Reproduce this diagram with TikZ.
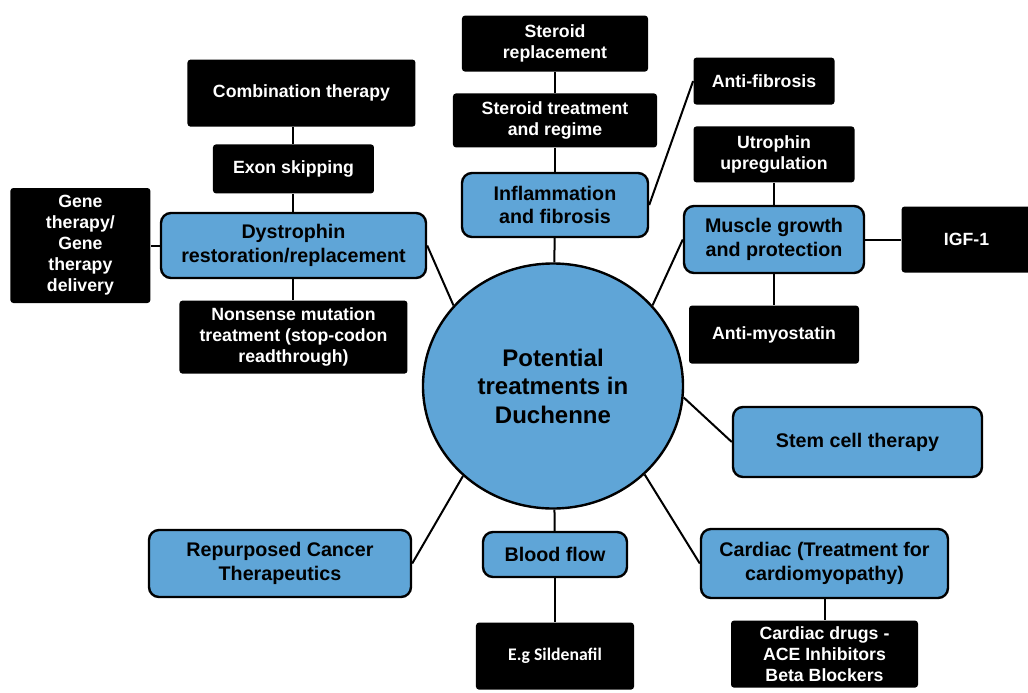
\documentclass[tikz,border=0pt]{standalone}
\usepackage{fontspec}
\setmainfont{Liberation Sans}
\newfontfamily\calibrifont{Carlito}
\usetikzlibrary{positioning,shapes.geometric}
\definecolor{branchFill}{HTML}{5FA5D7}
\tikzset{
  leaf/.style={
    rectangle, rounded corners=1.5pt, fill=black, text=white,
    font=\fontsize{8.85}{10.5}\selectfont\bfseries,
    align=center, inner sep=0pt
  },
  branch/.style={
    rectangle, rounded corners=5pt, fill=branchFill, draw=black,
    line width=1.2pt, font=\fontsize{9.85}{11.7}\selectfont\bfseries,
    align=center, inner sep=0pt
  },
  hub/.style={
    ellipse, fill=branchFill, draw=black, line width=1.2pt,
    font=\fontsize{12}{14.25}\selectfont\bfseries,
    align=center, inner sep=0pt
  },
  link/.style={draw=black, line width=1pt}
}

\begin{document}
\begin{tikzpicture}[x=1pt, y=1pt]
  \useasboundingbox (-276.5,-153) rectangle (237.5,193);

  % centre
  \node[hub, minimum width=130pt, minimum height=122.5pt] (hub) at (0,0)
        {Potential\\treatments in\\Duchenne};

  % main branches
  \node[branch, minimum width=132.5pt, minimum height=32.5pt] (dys)   at (-129.75,70.25) {Dystrophin\\restoration/replacement};
  \node[branch, minimum width=93pt,    minimum height=32pt]   (infl)  at (1,90.5)        {Inflammation\\and fibrosis};
  \node[branch, minimum width=90pt,    minimum height=33.5pt] (mus)   at (110.5,73.25)   {Muscle growth\\and protection};
  \node[branch, minimum width=124.5pt, minimum height=35pt]   (stem)  at (152.25,-28)    {Stem cell therapy};
  \node[branch, minimum width=123.5pt, minimum height=34.5pt] (card)  at (135.75,-88.75) {Cardiac (Treatment for\\cardiomyopathy)};
  \node[branch, minimum width=72pt,    minimum height=22.5pt] (blood) at (1,-84.25)      {Blood flow};
  \node[branch, minimum width=131pt,   minimum height=33.5pt] (rep)   at (-136.5,-88.75) {Repurposed Cancer\\Therapeutics};

  % dystrophin leaves
  \node[leaf, above=9pt of dys, minimum width=80.5pt, minimum height=24.5pt]              (exon) {Exon skipping};
  \node[leaf, above=8.5pt of exon, xshift=4pt, minimum width=114pt, minimum height=33.5pt] (comb) {Combination therapy};
  \node[leaf, left=4.5pt of dys, minimum width=70pt, minimum height=57.5pt]                (gene) {Gene\\therapy/\\Gene\\therapy\\delivery};
  \node[leaf, below=10.5pt of dys, minimum width=114pt, minimum height=36.5pt]             (nons) {Nonsense mutation\\treatment (stop-codon\\readthrough)};

  % inflammation leaves
  \node[leaf, above=12pt of infl, minimum width=102pt, minimum height=27pt]                (stertr)  {Steroid treatment\\and regime};
  \node[leaf, above=10.5pt of stertr, minimum width=93pt, minimum height=28pt]             (sterrep) {Steroid\\replacement};

  % muscle leaves
  \node[leaf, above=11pt of mus, minimum width=80.5pt, minimum height=28pt]                (utro)    {Utrophin\\upregulation};
  \node[leaf, above=10.5pt of utro, xshift=-5pt, minimum width=70.5pt, minimum height=23.5pt] (antifib) {Anti-fibrosis};
  \node[leaf, right=18pt of mus, minimum width=65pt, minimum height=33pt]                  (igf)     {IGF-1};
  \node[leaf, below=15.5pt of mus, minimum width=85pt, minimum height=29pt]                (myo)     {Anti-myostatin};

  % lower leaves
  \node[leaf, below=10.5pt of card, minimum width=93.5pt, minimum height=33.5pt]           (drugs) {Cardiac drugs -\\ACE Inhibitors\\Beta Blockers};
  \node[leaf, below=22pt of blood, minimum width=79pt, minimum height=33.5pt,
        font=\fontsize{8.85}{10.5}\selectfont\calibrifont\bfseries]                        (sild)  {E.g Sildenafil};

  % connectors
  \draw[link] (exon) -- (exon |- comb.south);
  \draw[link] (exon) -- (dys);
  \draw[link] (gene) -- (dys);
  \draw[link] (dys) -- (nons);
  \draw[link] (dys.east) -- (hub.141);
  \draw[link] (sterrep) -- (stertr);
  \draw[link] (stertr) -- (infl);
  \draw[link] (infl) -- (hub);
  \draw[link] (infl.east) -- (antifib.west);
  \draw[link] (utro) -- (mus);
  \draw[link] (mus) -- (igf);
  \draw[link] (mus) -- (myo);
  \draw[link] (mus.west) -- (hub.39);
  \draw[link] (hub.-5) -- (stem.west);
  \draw[link] (hub.-44) -- (card.west);
  \draw[link] (card) -- (drugs);
  \draw[link] (hub) -- (blood);
  \draw[link] (blood) -- (sild);
  \draw[link] (hub.225) -- (rep.east);
\end{tikzpicture}
\end{document}
